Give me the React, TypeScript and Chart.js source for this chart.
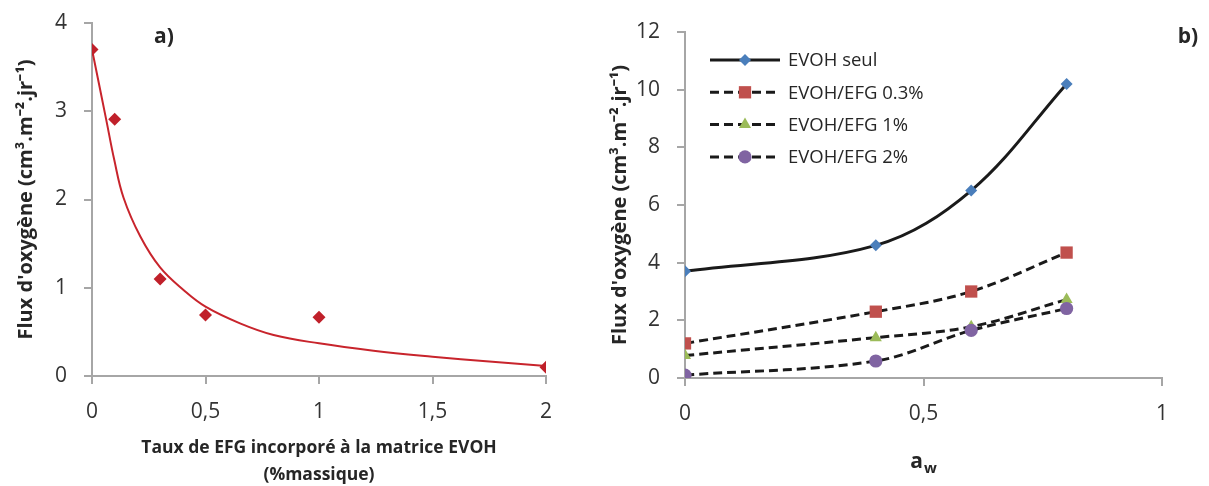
import React, { useEffect, useRef } from 'react';
import { Chart, registerables } from 'chart.js';

Chart.register(...registerables);

// ---------- Panel a) data ----------
const efgRate = [0, 0.1, 0.3, 0.5, 1, 2];
const fluxA = [3.7, 2.91, 1.1, 0.69, 0.665, 0.1];
// Trend curve
const trendX = [0, 0.063, 0.098, 0.139, 0.213, 0.3, 0.403, 0.5, 0.652, 0.8, 1.0, 1.24, 1.5, 1.75, 2.0];
const trendY = [3.7, 2.9, 2.45, 2.02, 1.58, 1.23, 0.975, 0.786, 0.597, 0.465, 0.37, 0.287, 0.219, 0.163, 0.113];
const xTickLabelsA = ['0', '0,5', '1', '1,5', '2'];
const yTickLabelsA = ['0', '1', '2', '3', '4'];

// ---------- Panel b) data ----------
const aw = [0, 0.4, 0.6, 0.8];
const evohSeul = [3.7, 4.6, 6.5, 10.2];
const efg03 = [1.2, 2.3, 3.0, 4.35];
const efg1 = [0.78, 1.4, 1.78, 2.72];
const efg2 = [0.1, 0.59, 1.65, 2.41];
const seriesNames = ['EVOH seul', 'EVOH/EFG 0.3%', 'EVOH/EFG 1%', 'EVOH/EFG 2%'];
const xTickLabelsB = ['0', '0,5', '1'];
const yTickLabelsB = ['0', '2', '4', '6', '8', '10', '12'];

const FONT = 'Open Sans';
const AXIS = '#a6a6a6';
const TEXT = '#262626';
const TICK_TEXT = '#333333';
const yTitleText = "Flux d'oxygène (cm³.m⁻².jr⁻¹)";

function pts(xs: number[], ys: number[]) {
  return xs.map((x, i) => ({ x, y: ys[i] }));
}

function drawMarker(ctx: CanvasRenderingContext2D, style: string, x: number, y: number, r: number, color: string) {
  ctx.save();
  ctx.setLineDash([]);
  ctx.fillStyle = color;
  ctx.beginPath();
  if (style === 'rectRot') {
    ctx.moveTo(x - r, y);
    ctx.lineTo(x, y - r);
    ctx.lineTo(x + r, y);
    ctx.lineTo(x, y + r);
    ctx.closePath();
  } else if (style === 'rect') {
    const s = r * Math.SQRT1_2;
    ctx.rect(x - s, y - s, 2 * s, 2 * s);
  } else if (style === 'triangle') {
    let rad = 0;
    ctx.moveTo(x + Math.sin(rad) * r, y - Math.cos(rad) * r);
    rad += (2 * Math.PI) / 3;
    ctx.lineTo(x + Math.sin(rad) * r, y - Math.cos(rad) * r);
    rad += (2 * Math.PI) / 3;
    ctx.lineTo(x + Math.sin(rad) * r, y - Math.cos(rad) * r);
    ctx.closePath();
  } else {
    ctx.arc(x, y, r, 0, Math.PI * 2);
  }
  ctx.fill();
  ctx.restore();
}

const panelLabelPlugin = {
  id: 'panelLabel',
  afterDraw(chart: any, _args: any, opts: any) {
    if (!opts || !opts.text) return;
    const ctx = chart.ctx;
    ctx.save();
    ctx.font = `bold 21px "${FONT}"`;
    ctx.fillStyle = TEXT;
    ctx.textAlign = 'center';
    ctx.textBaseline = 'middle';
    ctx.fillText(opts.text, opts.x, opts.y);
    ctx.restore();
  },
};

const legendPlugin = {
  id: 'lineLegend',
  afterDraw(chart: any, _args: any, opts: any) {
    if (!opts || !opts.display) return;
    const ctx = chart.ctx;
    const area = chart.chartArea;
    const x0 = area.left + 25;
    const x1 = area.left + 95;
    const xm = (x0 + x1) / 2;
    const tx = area.left + 103;
    const dsList = chart.data.datasets;
    for (let i = 0; i < dsList.length; i++) {
      const ds = dsList[i];
      const y = area.top + 28 + i * 32.3;
      ctx.save();
      ctx.strokeStyle = ds.borderColor;
      ctx.lineWidth = ds.borderWidth;
      ctx.setLineDash(ds.borderDash || []);
      ctx.beginPath();
      ctx.moveTo(x0, y);
      ctx.lineTo(x1, y);
      ctx.stroke();
      ctx.restore();
      drawMarker(ctx, ds.pointStyle, xm, y, ds.pointRadius, ds.pointBackgroundColor);
      ctx.save();
      ctx.font = `18.5px "${FONT}"`;
      ctx.fillStyle = TEXT;
      ctx.textAlign = 'left';
      ctx.textBaseline = 'middle';
      ctx.fillText(ds.label, tx, y + 1);
      ctx.restore();
    }
  },
};

const awTitlePlugin = {
  id: 'awTitle',
  afterDraw(chart: any, _args: any, opts: any) {
    if (!opts || !opts.display) return;
    const ctx = chart.ctx;
    const area = chart.chartArea;
    const cx = (area.left + area.right) / 2;
    ctx.save();
    ctx.fillStyle = TEXT;
    ctx.textBaseline = 'alphabetic';
    ctx.font = `bold 21px "${FONT}"`;
    const wa = ctx.measureText('a').width;
    ctx.font = `bold 15px "${FONT}"`;
    const ww = ctx.measureText('w').width;
    const start = cx - (wa + ww + 1) / 2;
    ctx.font = `bold 21px "${FONT}"`;
    ctx.textAlign = 'left';
    ctx.fillText('a', start, 468);
    ctx.font = `bold 15px "${FONT}"`;
    ctx.fillText('w', start + wa + 1, 473);
    ctx.restore();
  },
};

function axisBase(min: number, max: number, step: number, labels: string[], isX: boolean) {
  return {
    type: 'linear',
    min,
    max,
    ticks: {
      stepSize: step,
      autoSkip: false,
      maxRotation: 0,
      padding: isX ? 15 : 17,
      color: TICK_TEXT,
      font: { family: FONT, size: 21 },
      callback: (v: number) => labels[Math.round((v - min) / step)],
    },
    grid: {
      drawOnChartArea: false,
      drawTicks: true,
      tickLength: 8,
      color: AXIS,
      lineWidth: 2,
    },
    border: { color: AXIS, width: 2 },
  };
}

function buildA(): any {
  const x: any = axisBase(0, 2, 0.5, xTickLabelsA, true);
  x.title = {
    display: true,
    text: ['Taux de EFG incorporé à la matrice EVOH', '(%massique)'],
    color: TEXT,
    font: { family: FONT, size: 17.5, weight: 'bold', lineHeight: 1.53 },
    padding: { top: 0, bottom: -2 },
  };
  x.afterFit = (s: any) => { s.height = 110; };
  const y: any = axisBase(0, 4, 1, yTickLabelsA, false);
  y.title = {
    display: true,
    text: yTitleText,
    color: TEXT,
    font: { family: FONT, size: 20, weight: 'bold', lineHeight: 1.2 },
    padding: { top: 14, bottom: 0 },
  };
  y.afterFit = (s: any) => { s.width = 92; s.paddingTop = 8; s.paddingBottom = 8; };
  return {
    type: 'scatter',
    data: {
      datasets: [
        {
          label: 'Flux',
          data: pts(efgRate, fluxA),
          showLine: false,
          pointStyle: 'rectRot',
          pointRadius: 6.5,
          pointBackgroundColor: '#c0202a',
          pointBorderColor: '#c0202a',
          pointBorderWidth: 0,
          order: 0,
        },
        {
          label: 'Tendance',
          data: pts(trendX, trendY),
          showLine: true,
          borderColor: '#c8242c',
          borderWidth: 2,
          pointRadius: 0,
          tension: 0.4,
          order: 1,
        },
      ],
    },
    options: {
      responsive: false,
      animation: false,
      layout: { padding: { left: 0, top: 23, right: 54, bottom: 0 } },
      scales: { x, y },
      plugins: {
        legend: { display: false },
        tooltip: { enabled: false },
        panelLabel: { text: 'a)', x: 164, y: 37 },
      },
    },
    plugins: [panelLabelPlugin],
  };
}

function buildB(): any {
  const x: any = axisBase(0, 1, 0.5, xTickLabelsB, true);
  x.afterFit = (s: any) => { s.height = 108; };
  const y: any = axisBase(0, 12, 2, yTickLabelsB, false);
  y.title = {
    display: true,
    text: yTitleText,
    color: TEXT,
    font: { family: FONT, size: 20, weight: 'bold', lineHeight: 1.2 },
    padding: { top: 8, bottom: 0 },
  };
  y.afterFit = (s: any) => { s.width = 85; s.paddingTop = 8; s.paddingBottom = 8; };
  const values = [evohSeul, efg03, efg1, efg2];
  const styles = ['rectRot', 'rect', 'triangle', 'circle'];
  const radii = [6, 8.7, 7, 6.6];
  const colors = ['#4a7ebb', '#c0504d', '#9bbb59', '#8064a2'];
  const datasets = values.map((vals, i) => ({
    label: seriesNames[i],
    data: pts(aw, vals),
    showLine: true,
    borderColor: '#1a1a1a',
    borderWidth: 3,
    borderDash: i === 0 ? [] : [9, 5],
    tension: 0.35,
    pointStyle: styles[i],
    pointRadius: radii[i],
    pointBackgroundColor: colors[i],
    pointBorderColor: colors[i],
    pointBorderWidth: 0,
    order: 3 - i,
  }));
  return {
    type: 'scatter',
    data: { datasets },
    options: {
      responsive: false,
      animation: false,
      layout: { padding: { left: 0, top: 32, right: 47, bottom: 0 } },
      scales: { x, y },
      plugins: {
        legend: { display: false },
        tooltip: { enabled: false },
        panelLabel: { text: 'b)', x: 588, y: 37 },
        lineLegend: { display: true },
        awTitle: { display: true },
      },
    },
    plugins: [panelLabelPlugin, legendPlugin, awTitlePlugin],
  };
}

export default function App() {
  const leftRef = useRef<HTMLCanvasElement>(null);
  const rightRef = useRef<HTMLCanvasElement>(null);
  useEffect(() => {
    const a = new Chart(leftRef.current as HTMLCanvasElement, buildA());
    const b = new Chart(rightRef.current as HTMLCanvasElement, buildB());
    return () => {
      a.destroy();
      b.destroy();
    };
  }, []);
  return (
    <div style={{ position: 'absolute', left: 0, top: 0, width: 1209, height: 486, background: '#ffffff' }}>
      <div style={{ position: 'absolute', left: 0, top: 0, width: 600, height: 486 }}>
        <canvas ref={leftRef} width={600} height={486} style={{ width: 600, height: 486, display: 'block' }} />
      </div>
      <div style={{ position: 'absolute', left: 600, top: 0, width: 609, height: 486 }}>
        <canvas ref={rightRef} width={609} height={486} style={{ width: 609, height: 486, display: 'block' }} />
      </div>
    </div>
  );
}
